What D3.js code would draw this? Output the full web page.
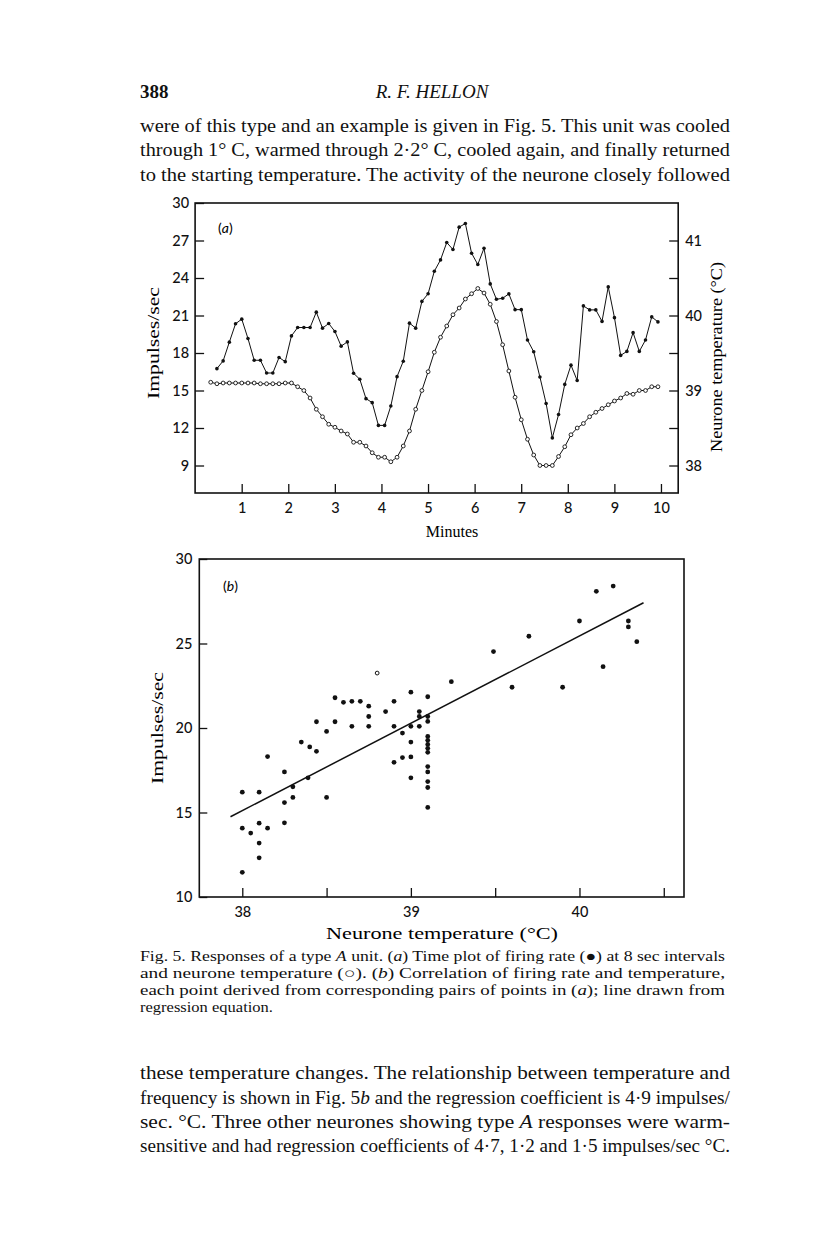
<!DOCTYPE html>
<html><head><meta charset="utf-8">
<script src="https://cdn.jsdelivr.net/npm/d3@7"></script>
<style>body{margin:0;background:#fff}svg{display:block}</style>
</head><body>
<svg id="page" width="816" height="1249"></svg>
<script>
// ---------- DATA ----------
// (a) firing rate (impulses/sec) sampled every 8 sec
const firingRate = [16.75,17.37,18.87,20.34,20.71,19.16,17.42,17.42,16.40,16.40,17.64,17.31,19.37,20.04,20.04,20.04,21.27,19.99,20.36,19.72,18.55,18.89,16.38,15.90,14.35,14.03,12.21,12.21,13.76,16.11,17.34,20.39,19.99,22.13,22.74,24.54,25.45,26.84,26.28,28.07,28.36,25.98,25.08,26.38,23.53,22.30,22.38,22.73,21.47,21.47,19.04,18.10,16.08,13.96,11.21,13.08,15.49,17.03,15.80,21.77,21.45,21.45,20.53,23.29,20.83,17.81,18.13,19.63,18.13,19.04,20.89,20.49];
// (a) neurone temperature (°C) sampled every 8 sec
const neuroneTemp = [39.11,39.09,39.10,39.10,39.10,39.10,39.10,39.10,39.09,39.09,39.09,39.09,39.10,39.10,39.05,39.00,38.90,38.75,38.65,38.55,38.51,38.46,38.42,38.31,38.31,38.26,38.17,38.11,38.11,38.05,38.11,38.26,38.46,38.75,39.00,39.25,39.51,39.71,39.86,40.01,40.10,40.22,40.29,40.36,40.30,40.15,39.92,39.61,39.26,38.91,38.61,38.35,38.14,38.00,38.00,38.00,38.12,38.25,38.41,38.50,38.56,38.65,38.71,38.76,38.81,38.86,38.90,38.96,38.95,39.00,39.00,39.05,39.05];
const sampleIntervalMin = 8 / 60;
const tempStartMin = 0.335;
const firingStartMin = tempStartMin + sampleIntervalMin;
const minuteTicks = [1,2,3,4,5,6,7,8,9,10];
const rateTicksA = [9,12,15,18,21,24,27,30];
const tempTicksA = [38,38.5,39,39.5,40,40.5,41];

// (b) scatter: temperature (°C) vs firing rate (impulses/sec)
const scatterTemp = [38.00,38.00,38.00,38.05,38.10,38.10,38.10,38.10,38.15,38.15,38.25,38.25,38.25,38.30,38.30,38.35,38.39,38.40,38.44,38.44,38.50,38.50,38.55,38.55,38.60,38.65,38.65,38.70,38.75,38.75,38.75,38.85,38.90,38.90,38.90,38.95,38.95,39.00,39.00,39.00,39.00,39.00,39.05,39.05,39.05,39.10,39.10,39.10,39.10,39.10,39.10,39.10,39.10,39.10,39.10,39.10,39.10,39.10,39.24,39.49,39.60,39.70,39.90,40.00,40.10,40.14,40.20,40.29,40.29,40.34];
const scatterRate = [16.20,14.07,11.46,13.78,16.20,14.37,13.19,12.32,18.31,14.07,17.40,15.59,14.39,16.52,15.89,19.17,17.05,18.88,18.62,20.37,19.80,15.89,20.37,21.79,21.52,21.58,20.10,21.58,21.29,20.68,20.10,20.97,21.58,20.10,17.97,19.70,18.25,22.12,20.10,19.17,18.29,17.05,20.97,20.68,20.10,21.85,20.68,20.39,19.50,19.27,19.03,18.80,18.56,17.72,17.40,16.83,16.48,15.30,22.74,24.52,22.41,25.43,22.41,26.33,28.09,23.63,28.40,26.33,25.98,25.11];
const openTemp = [38.80];
const openRate = [23.25];
const regressionTemp = [37.93, 40.38];
const regressionRate = [14.75, 27.41];
const rateTicksB = [10,15,20,25,30];
const tempTicksB = [38,38.5,39,39.5,40,40.5];

// ---------- PAGE ----------
const svg = d3.select("#page");
svg.append("rect").attr("width",816).attr("height",1249).attr("fill","#fff");
const SERIF = "'Liberation Serif','DejaVu Serif',serif";
const SANS = "Lato,'Open Sans','Liberation Sans',sans-serif";

function line(x, y, parts, opts) {
  opts = opts || {};
  const t = svg.append("text").attr("x", x).attr("y", y)
    .attr("font-family", SERIF).attr("font-size", opts.size || 19).attr("fill", "#111");
  if (opts.width) t.attr("textLength", opts.width).attr("lengthAdjust", "spacingAndGlyphs");
  if (opts.anchor) t.attr("text-anchor", opts.anchor);
  if (opts.italic) t.attr("font-style", "italic");
  if (opts.weight) t.attr("font-weight", opts.weight);
  (Array.isArray(parts) ? parts : [parts]).forEach(p => {
    if (typeof p === "string") t.append("tspan").text(p);
    else t.append("tspan").attr("font-style", "italic").text(p.i);
  });
  return t;
}

line(140, 98, "388", {size: 19, weight: "bold"});
line(432, 98, "R. F. HELLON", {size: 19, italic: true, anchor: "middle"});
line(140, 132, "were of this type and an example is given in Fig. 5. This unit was cooled", {width: 590});
line(140, 156, "through 1° C, warmed through 2·2° C, cooled again, and finally returned", {width: 590});
line(140, 181, "to the starting temperature. The activity of the neurone closely followed", {width: 590});

line(140, 961, ["Fig. 5. Responses of a type ", {i:"A"}, " unit. (", {i:"a"}, ") Time plot of firing rate (●) at 8 sec intervals"], {size: 14.5, width: 585});
line(140, 978, ["and neurone temperature (○). (", {i:"b"}, ") Correlation of firing rate and temperature,"], {size: 14.5, width: 585});
line(140, 995, ["each point derived from corresponding pairs of points in (", {i:"a"}, "); line drawn from"], {size: 14.5, width: 585});
line(140, 1012, "regression equation.", {size: 14.5, width: 133});

line(140, 1079, "these temperature changes. The relationship between temperature and", {width: 590});
line(140, 1104, ["frequency is shown in Fig. 5", {i:"b"}, " and the regression coefficient is 4·9 impulses/"], {width: 590});
line(140, 1128, ["sec. °C. Three other neurones showing type ", {i:"A"}, " responses were warm-"], {width: 590});
line(140, 1152, "sensitive and had regression coefficients of 4·7, 1·2 and 1·5 impulses/sec °C.", {width: 590});

// ---------- CHART (a) ----------
const gA = svg.append("g");
const xA = d3.scaleLinear().domain([0, 10.37]).range([195.1, 678.2]);
const yA = d3.scaleLinear().domain([6.8, 30]).range([493, 203]);
const yT = d3.scaleLinear().domain([38, 41]).range([yA(9), yA(27)]);

function styleAxis(g, size) {
  g.select(".domain").remove();
  g.selectAll(".tick line").attr("stroke", "#111").attr("stroke-width", 1.3);
  g.selectAll(".tick text").attr("font-family", SANS).attr("font-size", size || 14.5)
    .attr("font-weight", 500).attr("fill", "#111");
}
gA.append("g").attr("transform", `translate(${xA.range()[0]},0)`)
  .call(d3.axisLeft(yA).tickValues(rateTicksA).tickSize(-9).tickPadding(6).tickFormat(d3.format("d")))
  .call(g => styleAxis(g));
gA.append("g").attr("transform", `translate(${xA.range()[1]},0)`)
  .call(d3.axisRight(yT).tickValues(tempTicksA).tickSize(-9).tickPadding(7).tickFormat(d => Number.isInteger(d) ? d : ""))
  .call(g => styleAxis(g));
gA.append("g").attr("transform", `translate(0,${yA.range()[0]})`)
  .call(d3.axisBottom(xA).tickValues(minuteTicks).tickSize(-9).tickPadding(10).tickFormat(d3.format("d")))
  .call(g => styleAxis(g));
gA.append("rect").attr("x", xA.range()[0]).attr("y", yA.range()[1])
  .attr("width", xA.range()[1] - xA.range()[0]).attr("height", yA.range()[0] - yA.range()[1])
  .attr("fill", "none").attr("stroke", "#111").attr("stroke-width", 1.6);

const firingPts = firingRate.map((v, i) => [firingStartMin + i * sampleIntervalMin, v]);
const tempPts = neuroneTemp.map((v, i) => [tempStartMin + i * sampleIntervalMin, v]);
gA.append("path").attr("d", d3.line().x(d => xA(d[0])).y(d => yA(d[1]))(firingPts))
  .attr("fill", "none").attr("stroke", "#111").attr("stroke-width", 1);
gA.append("path").attr("d", d3.line().x(d => xA(d[0])).y(d => yT(d[1]))(tempPts))
  .attr("fill", "none").attr("stroke", "#111").attr("stroke-width", 1);
gA.selectAll(".fdot").data(firingPts).join("circle")
  .attr("cx", d => xA(d[0])).attr("cy", d => yA(d[1])).attr("r", 1.8).attr("fill", "#111");
gA.selectAll(".odot").data(tempPts).join("circle")
  .attr("cx", d => xA(d[0])).attr("cy", d => yT(d[1])).attr("r", 1.9)
  .attr("fill", "#fff").attr("stroke", "#111").attr("stroke-width", 0.9);

gA.append("text").attr("x", 218).attr("y", 233).attr("font-family", SANS).attr("font-size", 14)
  .html("(<tspan font-style='italic'>a</tspan>)");
gA.append("text").attr("x", 452).attr("y", 537).attr("text-anchor", "middle")
  .attr("font-family", SERIF).attr("font-size", 16).text("Minutes");
gA.append("text").attr("transform", "translate(159,343) rotate(-90)").attr("text-anchor", "middle")
  .attr("font-family", SERIF).attr("font-size", 16.5).attr("textLength", 112).attr("lengthAdjust", "spacingAndGlyphs").text("Impulses/sec");
gA.append("text").attr("transform", "translate(722,357) rotate(-90)").attr("text-anchor", "middle")
  .attr("font-family", SERIF).attr("font-size", 16.5).attr("textLength", 190).attr("lengthAdjust", "spacingAndGlyphs").text("Neurone temperature (°C)");

// ---------- CHART (b) ----------
const gB = svg.append("g");
const xB = d3.scaleLinear().domain([37.745, 40.62]).range([199.3, 684]);
const yB = d3.scaleLinear().domain([10, 30]).range([897, 559]);

gB.append("g").attr("transform", `translate(${xB.range()[0]},0)`)
  .call(d3.axisLeft(yB).tickValues(rateTicksB).tickSize(-8).tickPadding(7).tickFormat(d3.format("d")))
  .call(g => styleAxis(g));
gB.append("g").attr("transform", `translate(0,${yB.range()[0]})`)
  .call(d3.axisBottom(xB).tickValues(tempTicksB).tickSize(-9).tickPadding(10).tickFormat(d => Number.isInteger(d) ? d : ""))
  .call(g => styleAxis(g));
gB.append("rect").attr("x", xB.range()[0]).attr("y", yB.range()[1])
  .attr("width", xB.range()[1] - xB.range()[0]).attr("height", yB.range()[0] - yB.range()[1])
  .attr("fill", "none").attr("stroke", "#111").attr("stroke-width", 1.6);

gB.append("line").attr("x1", xB(regressionTemp[0])).attr("y1", yB(regressionRate[0]))
  .attr("x2", xB(regressionTemp[1])).attr("y2", yB(regressionRate[1]))
  .attr("stroke", "#111").attr("stroke-width", 1.5);
gB.selectAll(".sdot").data(scatterTemp.map((t, i) => [t, scatterRate[i]])).join("circle")
  .attr("cx", d => xB(d[0])).attr("cy", d => yB(d[1])).attr("r", 2.4).attr("fill", "#111");
gB.selectAll(".sopen").data(openTemp.map((t, i) => [t, openRate[i]])).join("circle")
  .attr("cx", d => xB(d[0])).attr("cy", d => yB(d[1])).attr("r", 1.9)
  .attr("fill", "#fff").attr("stroke", "#111").attr("stroke-width", 1);

gB.append("text").attr("x", 223).attr("y", 591).attr("font-family", SANS).attr("font-size", 14)
  .html("(<tspan font-style='italic'>b</tspan>)");
gB.append("text").attr("x", 442).attr("y", 939).attr("text-anchor", "middle")
  .attr("font-family", SERIF).attr("font-size", 16).attr("textLength", 232).attr("lengthAdjust", "spacingAndGlyphs").text("Neurone temperature (°C)");
gB.append("text").attr("transform", "translate(163,728) rotate(-90)").attr("text-anchor", "middle")
  .attr("font-family", SERIF).attr("font-size", 16.5).attr("textLength", 112).attr("lengthAdjust", "spacingAndGlyphs").text("Impulses/sec");
</script>
</body></html>
